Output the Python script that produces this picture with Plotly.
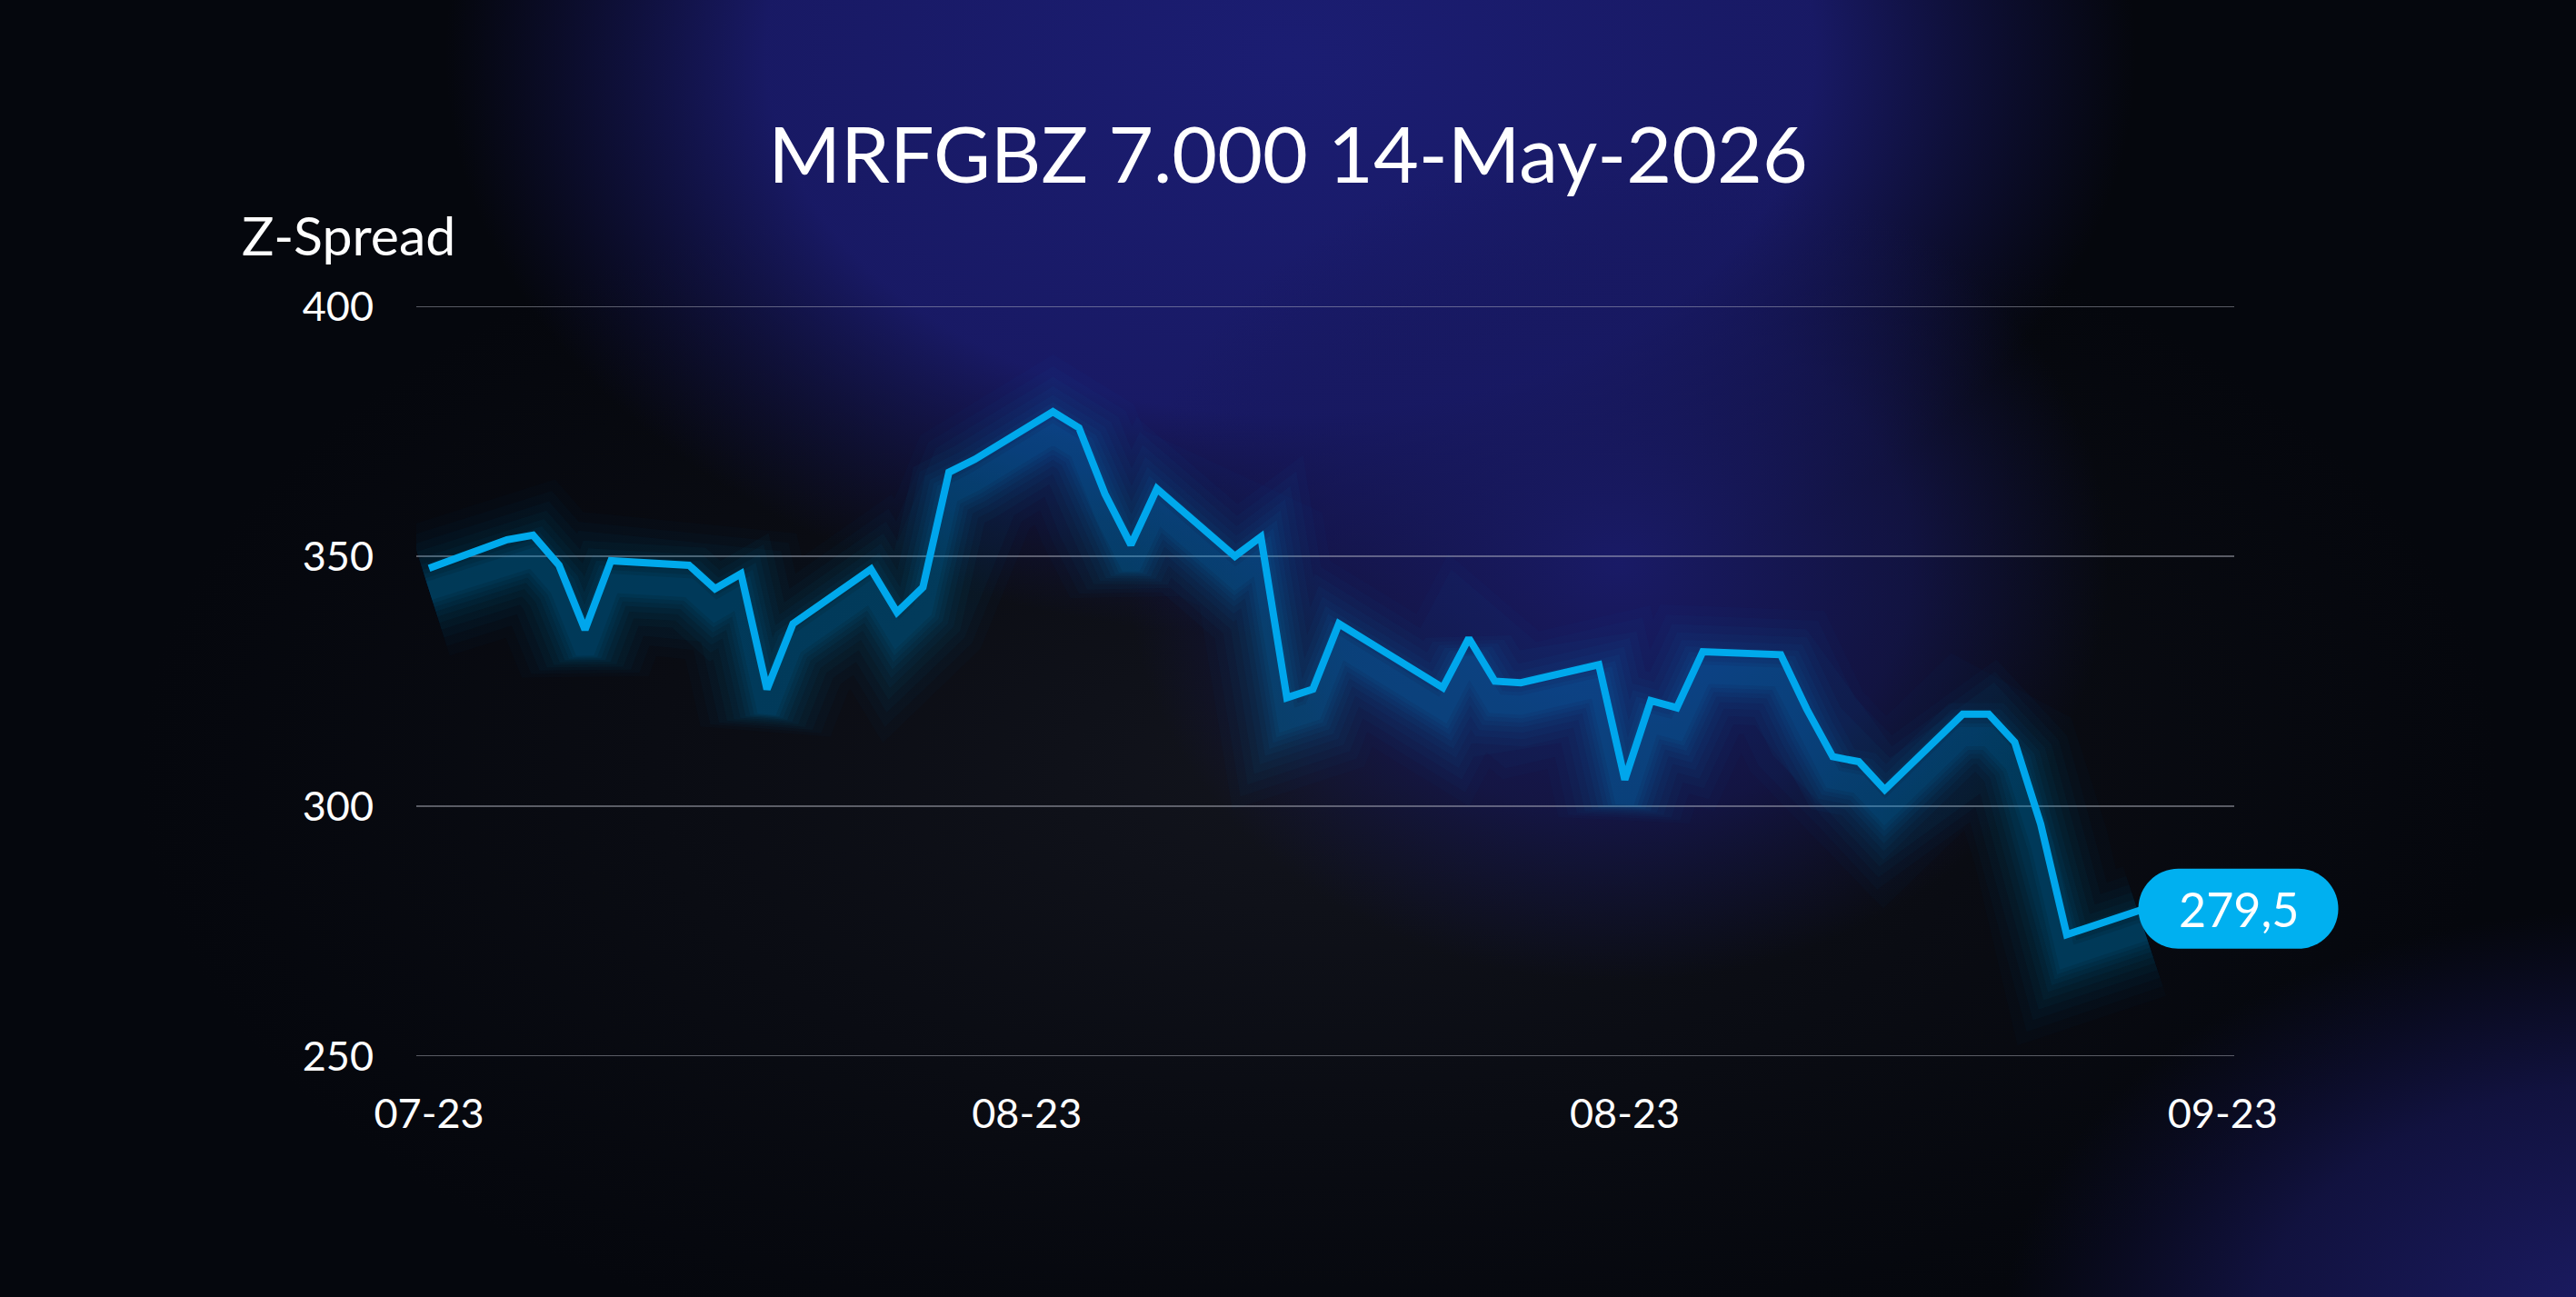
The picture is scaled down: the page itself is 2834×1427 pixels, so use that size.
import base64
import plotly.graph_objects as go

# ---------------- data ----------------
dates = [
    "2023-07-14", "2023-07-17", "2023-07-18", "2023-07-19", "2023-07-20", "2023-07-21",
    "2023-07-24", "2023-07-25", "2023-07-26", "2023-07-27", "2023-07-28",
    "2023-07-31", "2023-08-01", "2023-08-02", "2023-08-03", "2023-08-04",
    "2023-08-07", "2023-08-08", "2023-08-09", "2023-08-10", "2023-08-11",
    "2023-08-14", "2023-08-15", "2023-08-16", "2023-08-17", "2023-08-18",
    "2023-08-22", "2023-08-23", "2023-08-24", "2023-08-25",
    "2023-08-28", "2023-08-29", "2023-08-30", "2023-08-31", "2023-09-01",
    "2023-09-04", "2023-09-05", "2023-09-06", "2023-09-07", "2023-09-08",
    "2023-09-11", "2023-09-12", "2023-09-13", "2023-09-14", "2023-09-15",
    "2023-09-18",
]
z_spread = [
    347.6, 353.3, 354.2, 348.2, 335.3, 349.1,
    348.2, 343.5, 346.5, 323.4, 336.5,
    347.4, 338.8, 343.8, 366.8, 369.4,
    378.9, 375.7, 362.5, 352.3, 363.5,
    350.0, 353.9, 321.7, 323.4, 336.5,
    323.7, 333.6, 325.0, 324.7,
    328.3, 305.3, 321.1, 319.7, 330.9,
    330.3, 319.4, 309.9, 308.9, 303.3,
    318.4, 318.4, 312.8, 296.4, 274.3,
    279.5,
]
x_tick_vals = ["2023-07-14", "2023-08-06", "2023-08-29", "2023-09-21"]
y_tick_vals = [250, 300, 350, 400]
title_text = "MRFGBZ 7.000 14-May-2026"
y_label = "Z-Spread"

# ---------------- style ----------------
W, H = 2834, 1427
ML, MR, MT, MB = 458, 234, 337, 265
PW, PH = W - ML - MR, H - MT - MB
GRID_W = 2000  # visible length of the grid lines, px
FONT = "Lato, 'Open Sans', sans-serif"
LINE = "#00b0f0"

svg = f"""<svg xmlns='http://www.w3.org/2000/svg' width='{W}' height='{H}' viewBox='0 0 {W} {H}'>
<defs>
<radialGradient id='a'><stop offset='0' stop-color='#1b1d72' stop-opacity='1'/><stop offset='0.62' stop-color='#1a1b6c' stop-opacity='0.92'/><stop offset='1' stop-color='#16165e' stop-opacity='0'/></radialGradient>
<radialGradient id='b'><stop offset='0' stop-color='#1a1b6a' stop-opacity='0.95'/><stop offset='0.6' stop-color='#17185f' stop-opacity='0.6'/><stop offset='1' stop-color='#141555' stop-opacity='0'/></radialGradient>
<radialGradient id='c'><stop offset='0' stop-color='#1d1d6a' stop-opacity='1'/><stop offset='0.6' stop-color='#18185a' stop-opacity='0.65'/><stop offset='1' stop-color='#141450' stop-opacity='0'/></radialGradient>
<radialGradient id='d'><stop offset='0' stop-color='#14161f' stop-opacity='0.9'/><stop offset='1' stop-color='#10121a' stop-opacity='0'/></radialGradient>
</defs>
<rect width='{W}' height='{H}' fill='#05070d'/>
<ellipse cx='1450' cy='850' rx='1300' ry='700' fill='url(#d)'/>
<ellipse cx='1420' cy='60' rx='930' ry='640' fill='url(#a)'/>
<ellipse cx='1780' cy='620' rx='540' ry='460' fill='url(#b)'/>
<ellipse cx='2900' cy='1480' rx='700' ry='480' fill='url(#c)'/>
</svg>"""
bg_uri = "data:image/svg+xml;base64," + base64.b64encode(svg.encode()).decode()

fig = go.Figure()

# grid lines (drawn as shapes so they stop where the reference's do)
for v in y_tick_vals:
    fig.add_shape(type="line", xref="paper", yref="y", x0=0, x1=GRID_W / PW, y0=v, y1=v,
                  line=dict(color="rgba(190,192,205,0.45)", width=2), layer="below")

# soft glow (slightly shifted axis, like a drop shadow)
glow_layers = [(150, 0.02), (128, 0.025), (108, 0.03), (90, 0.035), (74, 0.04),
               (60, 0.045), (48, 0.05), (38, 0.05), (29, 0.055), (21, 0.06)]
for w, a in glow_layers:
    fig.add_trace(go.Scatter(
        x=dates, y=z_spread, mode="lines", yaxis="y2",
        line=dict(color=f"rgba(0,160,235,{a})", width=w),
        hoverinfo="skip", showlegend=False,
    ))

fig.add_trace(go.Scatter(
    x=dates, y=z_spread, mode="lines",
    line=dict(color=LINE, width=8),
    showlegend=False,
))

# end-value pill
last_x, last_y = dates[-1], z_spread[-1]
L, R, r = -7, 213, 44
k = r * 0.5523
cl, cr = L + r, R - r
pill = (f"M {cl},{-r} L {cr},{-r} "
        f"C {cr + k},{-r} {R},{-k} {R},0 "
        f"C {R},{k} {cr + k},{r} {cr},{r} "
        f"L {cl},{r} "
        f"C {cl - k},{r} {L},{k} {L},0 "
        f"C {L},{-k} {cl - k},{-r} {cl},{-r} Z")
fig.add_shape(type="path", xref="x", yref="y", xsizemode="pixel", ysizemode="pixel",
              xanchor=last_x, yanchor=last_y, path=pill,
              fillcolor=LINE, line=dict(width=0), layer="above")
fig.add_annotation(x=last_x, y=last_y, xref="x", yref="y", xshift=(L + R) / 2,
                   text=f"{last_y:.1f}".replace(".", ","), showarrow=False,
                   font=dict(family=FONT, size=52, color="white"),
                   xanchor="center", yanchor="middle")

# y-axis label
fig.add_annotation(x=(264 - ML) / PW, y=1 + (MT - 258) / PH, xref="paper", yref="paper",
                   text=y_label, showarrow=False, xanchor="left", yanchor="middle",
                   font=dict(family=FONT, size=59, color="white"))

fig.add_layout_image(dict(
    source=bg_uri, xref="paper", yref="paper",
    x=-ML / PW, y=1 + MT / PH, sizex=W / PW, sizey=H / PH,
    xanchor="left", yanchor="top", sizing="stretch", layer="below",
))

fig.update_layout(
    width=W, height=H, autosize=False,
    margin=dict(l=ML, r=MR, t=MT, b=MB, pad=0),
    paper_bgcolor="#05070d", plot_bgcolor="rgba(0,0,0,0)",
    font=dict(family=FONT, color="white"),
    title=dict(text=title_text, x=0.5, xanchor="center", y=1 - 171 / H, yanchor="middle",
               font=dict(family=FONT, size=86, color="white")),
    xaxis=dict(
        type="date", range=["2023-07-13 12:14", "2023-09-26 09:50"],
        tickvals=x_tick_vals, tickformat="%m-%y",
        showgrid=False, zeroline=False, showline=False, ticks="",
        tickfont=dict(family=FONT, size=45, color="white"),
        ticklabelstandoff=33,
    ),
    yaxis=dict(
        range=[250, 400], tickvals=y_tick_vals,
        showgrid=False, zeroline=False, showline=False, ticks="",
        tickfont=dict(family=FONT, size=45, color="white"),
        ticklabelstandoff=46,
    ),
    yaxis2=dict(range=[250 + 4.5, 400 + 4.5], overlaying="y", visible=False),
)

fig.write_html("out.html", config={"displayModeBar": False},
               post_script="document.body.style.margin='0';")
